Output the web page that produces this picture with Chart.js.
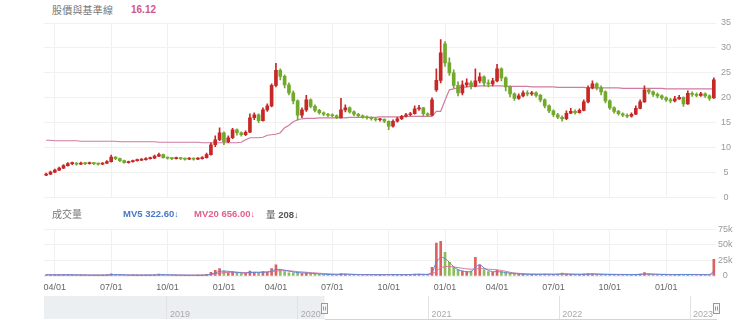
<!DOCTYPE html>
<html>
<head>
<meta charset="utf-8">
<script src="https://cdn.jsdelivr.net/npm/chart.js@4/dist/chart.umd.min.js"></script>
<style>
  html, body { margin: 0; padding: 0; background: #fff; }
  #wrap { position: relative; width: 740px; height: 333px; overflow: hidden;
          font-family: "Liberation Sans", "Noto Sans CJK TC", sans-serif; }
  canvas { position: absolute; left: 0; }
  .lbl { position: absolute; white-space: nowrap; line-height: 12px; font-size: 10px; }
  .lbl b { font-weight: bold; }
  .arr { font-weight: normal; font-size: 9px; }
</style>
</head>
<body>
<div id="wrap">
  <div class="lbl" style="left:52px;top:4px;color:#777;letter-spacing:0.2px;font-family:'Noto Sans CJK TC',sans-serif;">股價與基準線</div>
  <div class="lbl" style="left:131px;top:4px;color:#d4558a;"><b>16.12</b></div>

  <canvas id="price" width="740" height="208" style="top:0"></canvas>

  <div class="lbl" style="left:52px;top:208px;color:#777;font-family:'Noto Sans CJK TC',sans-serif;">成交量</div>
  <div class="lbl" style="left:123px;top:208px;color:#4a78c8;font-size:9.5px;"><b>MV5 322.60</b><span class="arr">↓</span></div>
  <div class="lbl" style="left:194px;top:208px;color:#e0608a;font-size:9.5px;"><b>MV20 656.00</b><span class="arr">↓</span></div>
  <div class="lbl" style="left:266px;top:208px;color:#555;font-size:9.5px;"><span style="font-family:'Noto Sans CJK TC',sans-serif;">量</span> <b>208</b><span class="arr">↓</span></div>

  <canvas id="vol" width="740" height="72" style="top:222px"></canvas>
  <canvas id="nav" width="740" height="30" style="top:294px"></canvas>
</div>

<script>
// Weekly bars (week starting Monday; market-closed weeks left out)
const weeks = [
  '2020-03-16','2020-03-23','2020-03-30','2020-04-06','2020-04-13','2020-04-20','2020-04-27','2020-05-04','2020-05-11','2020-05-18',
  '2020-05-25','2020-06-01','2020-06-08','2020-06-15','2020-06-22','2020-06-29','2020-07-06','2020-07-13','2020-07-20','2020-07-27',
  '2020-08-03','2020-08-10','2020-08-17','2020-08-24','2020-08-31','2020-09-07','2020-09-14','2020-09-21','2020-09-28','2020-10-05',
  '2020-10-12','2020-10-19','2020-10-26','2020-11-02','2020-11-09','2020-11-16','2020-11-23','2020-11-30','2020-12-07','2020-12-14',
  '2020-12-21','2020-12-28','2021-01-04','2021-01-11','2021-01-18','2021-01-25','2021-02-01','2021-02-15','2021-02-22','2021-03-01',
  '2021-03-08','2021-03-15','2021-03-22','2021-03-29','2021-04-05','2021-04-12','2021-04-19','2021-04-26','2021-05-03','2021-05-10',
  '2021-05-17','2021-05-24','2021-05-31','2021-06-07','2021-06-14','2021-06-21','2021-06-28','2021-07-05','2021-07-12','2021-07-19',
  '2021-07-26','2021-08-02','2021-08-09','2021-08-16','2021-08-23','2021-08-30','2021-09-06','2021-09-13','2021-09-20','2021-09-27',
  '2021-10-04','2021-10-11','2021-10-18','2021-10-25','2021-11-01','2021-11-08','2021-11-15','2021-11-22','2021-11-29','2021-12-06',
  '2021-12-13','2021-12-20','2021-12-27','2022-01-03','2022-01-10','2022-01-17','2022-01-24','2022-02-07','2022-02-14','2022-02-21',
  '2022-02-28','2022-03-07','2022-03-14','2022-03-21','2022-03-28','2022-04-04','2022-04-11','2022-04-18','2022-04-25','2022-05-02',
  '2022-05-09','2022-05-16','2022-05-23','2022-05-30','2022-06-06','2022-06-13','2022-06-20','2022-06-27','2022-07-04','2022-07-11',
  '2022-07-18','2022-07-25','2022-08-01','2022-08-08','2022-08-15','2022-08-22','2022-08-29','2022-09-05','2022-09-12','2022-09-19',
  '2022-09-26','2022-10-03','2022-10-10','2022-10-17','2022-10-24','2022-10-31','2022-11-07','2022-11-14','2022-11-21','2022-11-28',
  '2022-12-05','2022-12-12','2022-12-19','2022-12-26','2023-01-02','2023-01-09','2023-01-16','2023-01-30','2023-02-06','2023-02-13',
  '2023-02-20','2023-02-27','2023-03-06','2023-03-13','2023-03-20'
];

const openP = [
  4.5,4.7,5.1,5.5,5.9,6.4,6.8,6.9,6.7,6.9,
  6.8,6.9,6.8,6.7,6.9,7.2,8.1,7.8,7.4,7.0,
  7.2,7.4,7.5,7.6,7.8,7.9,8.3,8.6,8.0,7.9,
  7.8,7.9,7.8,7.7,7.8,7.7,7.8,8.0,8.6,10.6,
  11.6,13.0,11.2,12.0,13.6,13.0,12.6,13.1,16.0,16.6,
  15.4,17.6,18.4,22.5,25.5,24.3,22.6,21.0,19.4,16.5,
  17.6,19.6,18.3,17.5,17.0,16.7,16.5,16.4,16.0,17.6,
  18.0,17.2,16.7,16.4,16.1,16.0,15.8,15.6,15.7,15.3,
  14.3,15.3,15.8,16.3,16.6,16.8,17.8,18.0,16.8,16.5,
  21.6,23.5,30.8,27.0,25.0,22.5,21.0,22.6,23.0,22.4,
  23.4,24.2,23.0,22.8,23.4,25.8,24.0,22.2,20.8,19.9,
  20.4,21.0,20.8,21.0,20.5,19.6,18.4,17.4,16.6,16.1,
  15.8,16.9,17.3,17.0,17.5,19.2,22.0,22.8,22.0,21.2,
  19.4,18.0,17.3,16.8,16.5,16.3,16.7,17.9,19.2,21.6,
  21.2,20.7,20.4,20.0,19.6,19.4,19.8,20.1,18.8,20.9,
  20.7,20.5,20.8,20.4,20.0
];
const highP = [
  4.9,5.3,5.7,6.1,6.6,7.0,7.1,7.0,7.1,7.0,
  7.1,7.0,6.9,7.0,7.4,8.5,8.2,7.9,7.5,7.3,
  7.5,7.7,7.8,8.0,8.1,8.5,8.9,8.7,8.1,8.0,
  8.1,8.0,7.9,8.0,7.9,8.0,8.2,8.9,11.0,12.4,
  14.0,13.2,12.4,13.9,13.8,13.2,13.4,16.8,17.0,16.8,
  18.0,18.8,22.8,26.9,25.8,24.6,23.0,21.4,19.6,18.0,
  20.5,19.8,18.6,17.7,17.2,16.9,16.8,16.6,19.9,18.6,
  18.2,17.4,16.9,16.6,16.4,16.2,16.0,15.9,15.8,15.4,
  15.6,16.1,16.5,16.9,17.1,18.4,18.5,18.1,17.0,20.0,
  25.8,31.7,31.3,28.0,25.6,23.2,23.4,23.8,23.4,25.8,
  25.0,24.4,23.6,23.9,26.7,26.0,24.2,22.4,21.0,20.8,
  21.4,21.4,21.3,21.2,20.7,19.8,18.6,17.6,16.9,16.4,
  17.4,17.9,17.6,17.8,19.6,22.4,23.4,23.0,22.4,21.4,
  19.6,18.2,17.5,17.0,16.8,17.0,18.4,19.6,22.4,21.8,
  21.4,21.0,20.6,20.2,19.9,20.3,20.5,20.2,21.4,21.2,
  21.0,21.1,21.0,20.6,24.0
];
const lowP = [
  4.4,4.6,5.0,5.4,5.8,6.3,6.6,6.5,6.6,6.6,
  6.7,6.6,6.5,6.6,6.8,7.1,7.6,7.2,6.9,6.9,
  7.1,7.3,7.4,7.5,7.7,7.8,8.2,7.9,7.7,7.6,
  7.7,7.6,7.5,7.6,7.5,7.6,7.7,7.9,8.5,10.2,
  11.4,10.6,11.0,11.8,12.5,12.3,12.4,13.0,15.6,15.0,
  15.3,17.3,18.2,22.2,23.6,22.0,20.6,18.8,15.5,16.0,
  17.3,18.0,17.2,16.7,16.4,16.2,16.1,15.8,15.9,17.2,
  16.9,16.4,16.1,15.9,15.7,15.5,15.3,15.3,15.0,13.6,
  14.1,15.1,15.6,16.1,16.4,16.7,17.5,16.4,16.2,16.4,
  21.3,23.0,26.3,24.5,22.0,20.4,20.6,22.2,21.8,22.2,
  23.0,22.4,22.2,22.4,23.2,23.4,21.4,20.2,19.5,19.7,
  20.2,20.4,20.5,20.2,19.2,18.0,17.0,16.2,15.8,15.3,
  15.6,16.8,16.7,16.9,17.4,19.0,21.8,21.6,20.6,19.0,
  17.7,16.9,16.5,16.2,16.0,16.1,16.6,17.8,19.1,20.8,
  20.3,20.0,19.7,19.3,19.0,19.2,19.7,18.3,18.7,20.3,
  20.2,20.3,20.1,19.5,19.9
];
const closeP = [
  4.7,5.1,5.5,5.9,6.4,6.8,6.9,6.7,6.9,6.8,
  6.9,6.8,6.7,6.9,7.2,8.1,7.8,7.4,7.0,7.2,
  7.4,7.5,7.6,7.8,7.9,8.3,8.6,8.0,7.9,7.8,
  7.9,7.8,7.7,7.8,7.7,7.8,8.0,8.6,10.6,11.6,
  13.0,11.2,12.0,13.6,13.0,12.6,13.1,16.0,16.6,15.4,
  17.6,18.4,22.5,25.5,24.3,22.6,21.0,19.4,16.5,17.6,
  19.6,18.3,17.5,17.0,16.7,16.5,16.4,16.0,17.6,18.0,
  17.2,16.7,16.4,16.1,16.0,15.8,15.6,15.7,15.3,14.3,
  15.3,15.8,16.3,16.6,16.8,17.8,18.0,16.8,16.5,19.6,
  23.5,29.0,27.0,25.0,22.5,21.0,22.6,23.0,22.4,23.4,
  24.2,23.0,22.8,23.4,25.8,24.0,22.2,20.8,19.9,20.4,
  21.0,20.8,21.0,20.5,19.6,18.4,17.4,16.6,16.1,15.8,
  16.9,17.3,17.0,17.5,19.2,22.0,22.8,22.0,21.2,19.4,
  18.0,17.3,16.8,16.5,16.3,16.7,17.9,19.2,21.6,21.2,
  20.7,20.4,20.0,19.6,19.4,19.8,20.1,18.8,20.9,20.7,
  20.5,20.8,20.4,19.9,23.6
];
// 基準線
const baseline = [
  11.5,11.5,11.4,11.4,11.4,11.4,11.4,11.4,11.3,11.3,
  11.3,11.3,11.3,11.3,11.3,11.3,11.3,11.2,11.2,11.2,
  11.2,11.2,11.2,11.2,11.2,11.2,11.1,11.1,11.1,11.1,
  11.1,11.1,11.1,11.1,11.1,11.1,11.0,11.0,11.0,11.0,
  11.0,11.0,11.0,11.0,11.0,11.1,11.6,12.0,12.0,12.0,
  12.1,12.5,12.6,12.7,13.0,14.0,14.5,15.2,15.6,15.8,
  15.9,15.9,15.9,16.0,16.0,16.0,16.0,16.0,16.0,16.0,
  16.1,16.1,16.1,16.1,16.1,16.1,16.1,16.2,16.2,16.2,
  16.2,16.2,16.2,16.3,16.3,16.3,16.3,16.3,16.3,16.3,
  17.3,17.3,19.5,21.6,21.8,22.0,22.1,22.2,22.3,22.3,
  22.4,22.4,22.4,22.4,22.4,22.4,22.3,22.3,22.3,22.3,
  22.3,22.3,22.2,22.2,22.2,22.2,22.2,22.2,22.1,22.1,
  22.1,22.1,22.1,22.1,22.1,22.0,22.0,22.0,22.0,22.0,
  22.0,22.0,22.0,21.9,21.9,21.9,21.9,21.9,21.9,21.9,
  21.9,21.9,21.9,21.8,21.8,21.8,21.8,21.8,21.8,21.8,
  21.8,21.8,21.8,21.8,21.8
];
// 成交量 (thousands)
const volume = [
  2.0,1.8,1.5,1.6,2.2,2.0,1.5,1.4,1.6,1.3,
  1.2,1.4,1.3,1.5,1.8,3.5,2.2,1.6,1.3,1.2,
  1.4,1.5,1.3,1.6,1.5,2.0,3.0,2.0,1.4,1.3,
  1.2,1.3,1.2,1.1,1.2,1.3,1.5,2.5,6.0,9.0,
  12.0,8.0,5.0,7.0,5.0,4.0,4.0,8.0,6.0,5.0,
  7.0,6.0,12.0,18.0,10.0,7.0,5.0,5.0,6.0,4.0,
  5.0,3.5,3.0,2.5,2.2,2.0,2.0,2.0,4.0,3.0,
  2.5,2.2,2.0,1.9,2.0,1.8,1.9,2.0,2.1,2.6,
  2.2,2.0,2.1,2.2,2.3,3.0,3.0,2.5,2.5,14.0,
  53.0,56.0,38.0,22.0,14.0,10.0,8.0,7.0,8.0,30.0,
  18.0,10.0,7.0,6.0,9.0,7.0,5.0,4.0,3.5,3.0,
  2.8,2.6,2.5,2.6,2.8,3.0,2.8,2.6,2.9,4.5,
  3.0,2.6,2.4,2.5,3.0,3.8,3.5,2.8,2.5,2.4,
  2.3,2.2,2.2,2.1,2.2,2.3,2.6,3.0,5.5,3.5,
  2.8,2.5,2.3,2.2,2.1,2.3,2.5,2.6,2.4,2.3,
  2.2,2.3,2.2,2.1,27.0
];
const mv5 = [
  1.9,1.9,1.8,1.7,1.8,1.9,1.8,1.7,1.6,1.5,
  1.4,1.4,1.3,1.4,1.5,2.0,2.2,2.1,1.9,1.6,
  1.5,1.4,1.4,1.5,1.5,1.6,2.0,2.1,1.9,1.7,
  1.5,1.4,1.3,1.2,1.2,1.2,1.3,1.6,3.0,5.0,
  7.5,8.0,7.5,6.5,6.0,5.0,4.5,5.5,6.0,5.8,
  6.2,6.5,8.0,10.5,10.5,9.5,8.0,6.5,5.5,5.0,
  4.8,4.2,3.8,3.3,2.8,2.5,2.3,2.2,2.8,3.0,
  2.8,2.5,2.2,2.1,2.1,2.0,2.0,2.0,2.0,2.2,
  2.2,2.2,2.1,2.1,2.2,2.5,2.7,2.7,2.6,6.0,
  22.0,30.0,28.0,22.0,15.0,10.0,8.0,7.0,7.0,14.0,
  18.0,13.0,9.0,7.0,7.0,6.5,5.5,4.5,4.0,3.4,
  3.0,2.8,2.7,2.6,2.7,2.8,2.8,2.7,2.8,3.5,
  3.2,2.9,2.7,2.6,2.7,3.1,3.2,3.0,2.7,2.5,
  2.4,2.3,2.2,2.2,2.2,2.2,2.4,2.6,3.5,3.3,
  3.0,2.7,2.5,2.3,2.2,2.2,2.3,2.4,2.4,2.4,
  2.3,2.3,2.2,2.2,8.0
];
const mv20 = [
  2.0,2.0,1.9,1.9,1.9,1.8,1.8,1.8,1.7,1.7,
  1.7,1.6,1.6,1.6,1.6,1.7,1.8,1.8,1.8,1.7,
  1.7,1.7,1.6,1.6,1.6,1.7,1.8,1.8,1.8,1.7,
  1.7,1.6,1.6,1.5,1.5,1.5,1.5,1.6,2.5,3.5,
  4.5,5.5,5.8,6.0,6.0,5.8,5.6,5.8,6.0,6.0,
  6.2,6.3,7.0,8.0,8.5,8.5,8.2,7.8,7.0,6.5,
  6.0,5.5,5.0,4.5,4.0,3.6,3.2,3.0,2.9,2.8,
  2.7,2.6,2.5,2.4,2.4,2.3,2.3,2.3,2.3,2.4,
  2.4,2.4,2.4,2.4,2.4,2.5,2.5,2.6,2.6,3.5,
  8.0,13.0,15.0,15.5,14.5,13.5,12.5,11.5,11.0,11.5,
  12.0,11.5,11.0,10.5,10.0,9.0,7.5,6.0,5.0,4.3,
  3.8,3.4,3.2,3.1,3.0,3.0,2.9,2.9,2.9,3.0,
  3.0,3.0,2.9,2.9,2.9,3.0,3.1,3.1,3.0,2.9,
  2.8,2.7,2.6,2.6,2.5,2.5,2.5,2.6,2.8,2.9,
  2.9,2.8,2.7,2.6,2.5,2.5,2.5,2.5,2.5,2.5,
  2.5,2.4,2.4,2.4,3.8
];

// Quarter tick marks on the date axis
const quarterWeeks = ['2020-03-30','2020-06-29','2020-09-28','2020-12-28','2021-03-29','2021-06-28',
                      '2021-09-27','2021-12-27','2022-03-28','2022-06-27','2022-09-26','2022-12-26'];
const quarterText  = ['04/01','07/01','10/01','01/01','04/01','07/01','10/01','01/01','04/01','07/01','10/01','01/01'];

// Range navigator (years as decimals)
const navYears  = [2019, 2020, 2021, 2022, 2023];
const navSpan   = [2018.06, 2023.206];
const navWindow = [2020.206, 2023.206];

const RED = '#c62828', GREEN = '#72a82c';
const VOL_RED = 'rgba(214,70,70,0.85)', VOL_GREEN = 'rgba(120,178,60,0.85)';
const FONT = "'Liberation Sans', 'Noto Sans CJK TC', sans-serif";

const quarterLabel = {};
quarterWeeks.forEach((w, k) => { quarterLabel[w] = quarterText[k]; });
const isUp = i => closeP[i] >= openP[i];

function dateAxis(showLabels) {
  return {
    type: 'category',
    offset: true,
    grid: {
      offset: false,
      drawTicks: false,
      color: c => (c.tick && quarterLabel[weeks[c.index]]) ? 'rgba(0,0,0,0.06)' : 'rgba(0,0,0,0)'
    },
    border: { display: false },
    ticks: {
      display: showLabels,
      autoSkip: false,
      maxRotation: 0,
      padding: 6,
      color: '#666',
      font: { size: 9, family: FONT },
      callback: (v, i) => quarterLabel[weeks[i]] || ''
    }
  };
}

const noUi = { legend: { display: false }, tooltip: { enabled: false } };

// Price: candlesticks (wick + body floating bars) and baseline
new Chart(document.getElementById('price'), {
  type: 'bar',
  data: {
    labels: weeks,
    datasets: [
      { type: 'line', data: baseline, borderColor: '#cf7ca0', borderWidth: 1.2,
        pointRadius: 0, tension: 0, order: 3 },
      { type: 'bar', data: weeks.map((_, i) => [lowP[i], highP[i]]),
        backgroundColor: weeks.map((_, i) => isUp(i) ? RED : GREEN),
        barThickness: 1, grouped: false, order: 2 },
      { type: 'bar', data: weeks.map((_, i) => [openP[i], closeP[i]]),
        backgroundColor: weeks.map((_, i) => isUp(i) ? RED : GREEN),
        barThickness: 3, minBarLength: 1, grouped: false, order: 1 }
    ]
  },
  options: {
    responsive: false, animation: false, events: [],
    layout: { padding: { left: 44, right: 4, top: 23, bottom: 7 } },
    plugins: noUi,
    scales: {
      x: Object.assign(dateAxis(false), { afterFit: s => { s.height = 0; } }),
      y: {
        position: 'right', min: 0, max: 35,
        ticks: { stepSize: 5, padding: 5, crossAlign: 'center', color: '#999', font: { size: 9, family: FONT } },
        grid: { color: '#f1f1f1', drawTicks: false },
        border: { display: false },
        afterFit: s => { s.width = 20; }
      }
    }
  }
});

// Volume with moving averages
new Chart(document.getElementById('vol'), {
  type: 'bar',
  data: {
    labels: weeks,
    datasets: [
      { type: 'line', data: mv5, borderColor: '#5a86d6', borderWidth: 1, pointRadius: 0, tension: 0.3, order: 1 },
      { type: 'line', data: mv20, borderColor: '#d9739a', borderWidth: 1, pointRadius: 0, tension: 0.3, order: 2 },
      { type: 'bar', data: volume, barThickness: 2, grouped: false, order: 3,
        backgroundColor: weeks.map((_, i) => isUp(i) ? VOL_RED : VOL_GREEN) }
    ]
  },
  options: {
    responsive: false, animation: false, events: [],
    layout: { padding: { left: 44, right: 4, top: 6, bottom: 0 } },
    plugins: noUi,
    scales: {
      x: Object.assign(dateAxis(true), { afterFit: s => { s.height = 18; } }),
      y: {
        position: 'right', min: 0, max: 75,
        ticks: { stepSize: 25, padding: 2, crossAlign: 'center', color: '#999', font: { size: 9, family: FONT },
                 callback: v => v === 0 ? '0' : v + 'k' },
        grid: { color: '#f1f1f1', drawTicks: false },
        border: { display: false },
        afterFit: s => { s.width = 20; }
      }
    }
  }
});

// Range navigator
const navigatorPlugin = {
  id: 'navigatorPlugin',
  beforeDraw(chart) {
    const { ctx, chartArea: a, scales: { x } } = chart;
    const x0 = x.getPixelForValue(navWindow[0]);
    ctx.save();
    ctx.fillStyle = '#eceff1';
    ctx.fillRect(a.left, a.top, x0 - a.left, a.bottom - a.top);
    ctx.restore();
  },
  afterDraw(chart) {
    const { ctx, chartArea: a, scales: { x } } = chart;
    const x0 = x.getPixelForValue(navWindow[0]);
    const x1 = x.getPixelForValue(navWindow[1]);
    ctx.save();
    ctx.strokeStyle = '#d4d4d4';
    ctx.lineWidth = 1;
    ctx.beginPath();
    ctx.moveTo(x0, a.bottom + 0.5); ctx.lineTo(x1, a.bottom + 0.5);
    ctx.stroke();

    ctx.fillStyle = '#aaa';
    ctx.font = '9px ' + FONT;
    ctx.textBaseline = 'alphabetic';
    ctx.textAlign = 'left';
    navYears.forEach(yr => ctx.fillText(String(yr), x.getPixelForValue(yr) + 3, a.bottom - 2));

    [x0, x1].forEach(px => {
      const hx = Math.round(px) - 3.5, hy = 9.5;
      ctx.fillStyle = '#f6f6f6';
      ctx.strokeStyle = '#999';
      ctx.fillRect(hx, hy, 6, 10);
      ctx.strokeRect(hx, hy, 6, 10);
      ctx.beginPath();
      ctx.moveTo(hx + 2, hy + 3); ctx.lineTo(hx + 2, hy + 7);
      ctx.moveTo(hx + 4, hy + 3); ctx.lineTo(hx + 4, hy + 7);
      ctx.stroke();
    });
    ctx.restore();
  }
};

new Chart(document.getElementById('nav'), {
  type: 'line',
  data: { datasets: [] },
  plugins: [navigatorPlugin],
  options: {
    responsive: false, animation: false, events: [],
    layout: { padding: { left: 44, right: 23, top: 2, bottom: 5 } },
    plugins: noUi,
    scales: {
      x: {
        type: 'linear', min: navSpan[0], max: navSpan[1],
        afterBuildTicks: s => { s.ticks = navYears.map(v => ({ value: v })); },
        ticks: { display: false },
        grid: { color: '#e2e2e2', drawTicks: false },
        border: { display: false },
        afterFit: s => { s.height = 0; }
      },
      y: { display: false, min: 0, max: 1 }
    }
  }
});
</script>
</body>
</html>
